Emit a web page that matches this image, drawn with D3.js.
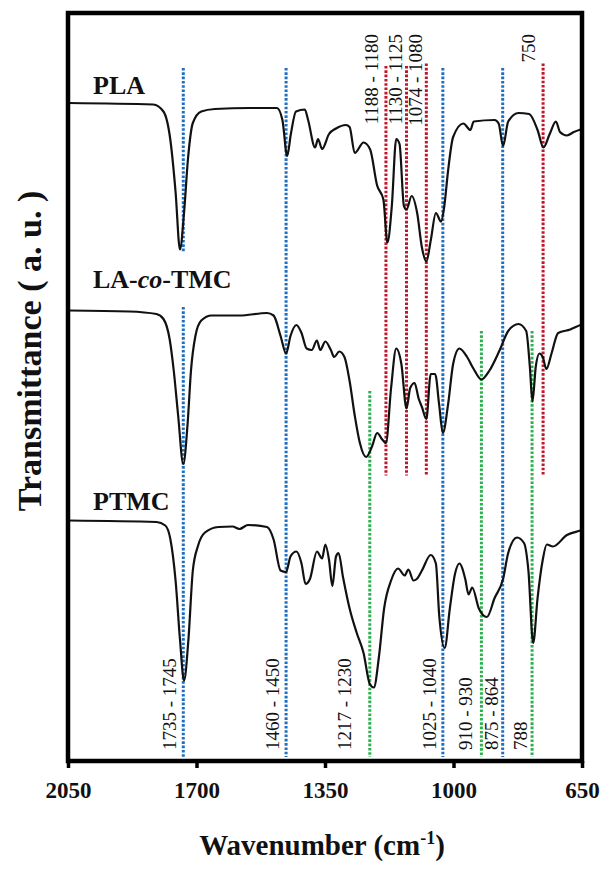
<!DOCTYPE html>
<html><head><meta charset="utf-8">
<script src="https://cdn.jsdelivr.net/npm/d3@7"></script>
<style>
html,body{margin:0;padding:0;background:#fff;}
svg{display:block;}
text{font-family:"Liberation Serif","Times New Roman",serif;}
</style></head>
<body>
<svg id="chart" width="603" height="870"></svg>
<script>
// ---- data (wavenumber cm-1, transmittance a.u.) ----
const xTicks = [2050, 1700, 1350, 1000, 650];

const PLA = [[2048,131.6],[1818,131.3],[1790,129.9],[1771,124.1],[1757,113.8],[1745,102.3],[1734,109.6],[1723,120.6],[1710,127.6],[1687,129.9],[1650,130.4],[1555,130.6],[1481,130.6],[1466,128.2],[1453,121],[1443,125.4],[1429,129.9],[1405,130.3],[1396,128.2],[1377,122.7],[1369,124.4],[1358,122.4],[1339,125.4],[1320,126.5],[1293,127.2],[1283,126.8],[1269,121.6],[1245,123.7],[1227,122.3],[1208,115.1],[1191,112.3],[1180,103.7],[1168,111],[1156,124.4],[1147,123.4],[1135,111],[1128,110.3],[1114,113],[1099,109.6],[1086,102.7],[1074,99.9],[1062,104.1],[1048,109.6],[1034,107.9],[1025,111],[1015,117.9],[1001,124.8],[973,127.5],[954,126.2],[945,127.9],[888,128.2],[877,127.5],[865,123],[851,127.9],[823,129.6],[794,129.4],[771,126.2],[755,122.7],[738,125.4],[721,127.9],[710,125.8],[691,125.1],[672,125.8],[654,126.3],[650,126.4]];

const LACOTMC = [[2048,90.1],[1884,89.9],[1809,89.4],[1790,88.4],[1773,84.3],[1762,78.1],[1750,69.1],[1736,59.4],[1724,67.7],[1715,78.1],[1703,85],[1687,88.1],[1659,89.1],[1583,89.1],[1508,89.6],[1490,89.1],[1471,85],[1456,81.5],[1444,85],[1428,87.2],[1414,85.6],[1400,82.5],[1386,82.2],[1372,84.1],[1363,82.2],[1349,83.9],[1334,82.2],[1325,80.8],[1311,81.9],[1297,80.8],[1283,76],[1269,69.1],[1255,63.6],[1238,60.8],[1222,62.9],[1208,65.6],[1194,64.3],[1184,63.6],[1170,74.6],[1156,82.5],[1142,79.4],[1128,70.5],[1118,74.6],[1106,75.6],[1095,72.5],[1086,70.8],[1074,68.4],[1062,77.4],[1050,77.4],[1039,71.2],[1029,65.6],[1015,71.2],[1001,79.4],[984,82.5],[963,80.8],[945,78.4],[924,76.3],[902,78.1],[874,82.2],[851,86],[823,87.4],[802,86],[792,78.8],[785,71.9],[776,78.8],[766,81.5],[757,80.8],[747,78.4],[733,81.5],[715,85.6],[682,86.3],[654,87.2],[650,87.3]];

const PTMC = [[2048,48.1],[1809,47.8],[1785,47.1],[1771,44.3],[1757,36.1],[1745,24.3],[1734,16.1],[1722,24.3],[1710,38.1],[1696,43],[1677,45.7],[1640,46.8],[1602,46.9],[1583,46.4],[1560,47.2],[1508,46.8],[1490,44.3],[1471,38.1],[1456,37.8],[1444,40.9],[1428,41.9],[1414,39.5],[1403,35.4],[1391,36.4],[1372,41.9],[1358,40.5],[1349,43.3],[1339,40.2],[1330,35],[1320,40.9],[1313,41.6],[1301,36.8],[1283,30.5],[1264,25.7],[1245,21.6],[1228,15.4],[1217,14.7],[1203,20.9],[1189,30.5],[1170,36.1],[1151,38.5],[1133,37.1],[1123,38.3],[1109,36.1],[1100,36.4],[1086,38.1],[1062,41.2],[1048,39.5],[1039,29.2],[1024,22.6],[1010,30.5],[996,37.4],[984,39.5],[968,36.4],[959,33.3],[949,34.7],[931,30.5],[909,28.8],[888,32.6],[865,36.4],[851,41.6],[827,44.7],[808,43.6],[796,38.1],[783,23.6],[771,32.6],[757,40.2],[746,43.3],[729,42.9],[691,45.2],[654,46.1],[650,46.2]];

const seriesNames = ["PLA", "LA-co-TMC", "PTMC"];
const seriesLabelY = [133.4, 94.6, 50.2];   // label baseline (a.u.)

// band marker lines: wavenumber, colour group, vertical extents (a.u.)
const markers = [
  {wn:1736, c:"blue",  segs:[[138.6,101.8],[90.8,0.8]]},
  {wn:1456, c:"blue",  segs:[[138.6,0.8]]},
  {wn:1228, c:"green", segs:[[74,0.8]]},
  {wn:1184, c:"red",   segs:[[139,57.1]]},
  {wn:1128, c:"red",   segs:[[139,57.1]]},
  {wn:1074, c:"red",   segs:[[139.5,57.1]]},
  {wn:1029, c:"blue",  segs:[[138.6,0.8]]},
  {wn:924,  c:"green", segs:[[86,0.8]]},
  {wn:866,  c:"blue",  segs:[[138.6,0.8]]},
  {wn:786,  c:"green", segs:[[86,0.8]]},
  {wn:756,  c:"red",   segs:[[139.5,57.1]]}
];

// band labels: text, wavenumber of text baseline, top or bottom
const bandLabels = [
  {t:"1188 - 1180", wn:1206, pos:"top"},
  {t:"1130 - 1125", wn:1140, pos:"top"},
  {t:"1074 - 1080", wn:1086, pos:"top"},
  {t:"750",         wn:778,  pos:"top"},
  {t:"1735 - 1745", wn:1757, pos:"bottom"},
  {t:"1460 - 1450", wn:1475, pos:"bottom"},
  {t:"1217 - 1230", wn:1278, pos:"bottom"},
  {t:"1025 - 1040", wn:1048, pos:"bottom"},
  {t:"910 - 930",   wn:950,  pos:"bottom"},
  {t:"875 - 864",   wn:879,  pos:"bottom"},
  {t:"788",         wn:800,  pos:"bottom"}
];

// ---- drawing ----
const colors = {blue:"#1f6fc0", red:"#c0162b", green:"#2db04f"};
const L = 68, R = 582, T = 13, B = 761;
const svg = d3.select("#chart");
const x = d3.scaleLinear().domain([2050, 650]).range([L, R]);
const y = d3.scaleLinear().domain([0, 149.6]).range([B, T]);

// marker lines
markers.forEach(m => {
  m.segs.forEach(s => {
    svg.append("line")
      .attr("x1", x(m.wn)).attr("x2", x(m.wn))
      .attr("y1", y(s[0])).attr("y2", y(s[1]))
      .attr("stroke", colors[m.c]).attr("stroke-width", 3)
      .attr("stroke-dasharray", "2.6,1.7");
  });
});

// spectra
const line = d3.line().x(d => x(d[0])).y(d => y(d[1])).curve(d3.curveMonotoneX);
[PLA, LACOTMC, PTMC].forEach(s => {
  svg.append("path").datum(s).attr("d", line)
    .attr("fill", "none").attr("stroke", "#111").attr("stroke-width", 2.2)
    .attr("stroke-linejoin", "round");
});

// band labels
bandLabels.forEach(b => {
  const yy = b.pos === "top" ? 34 : 750;
  svg.append("text")
    .attr("transform", `translate(${x(b.wn)},${yy}) rotate(-90)`)
    .attr("text-anchor", b.pos === "top" ? "end" : "start")
    .attr("font-size", 19).attr("fill", "#111")
    .text(b.t);
});

// series labels
seriesNames.forEach((n, i) => {
  const t = svg.append("text").attr("x", 93).attr("y", y(seriesLabelY[i]))
    .attr("font-size", 26).attr("font-weight", "bold").attr("fill", "#111");
  if (n === "LA-co-TMC") {
    t.append("tspan").text("LA-");
    t.append("tspan").attr("font-style", "italic").text("co");
    t.append("tspan").text("-TMC");
  } else t.text(n);
});

// frame
svg.append("rect").attr("x", L).attr("y", T).attr("width", R - L).attr("height", B - T)
  .attr("fill", "none").attr("stroke", "#000").attr("stroke-width", 4.5);

// x axis ticks + labels
const xAxis = d3.axisBottom(x).tickValues(xTicks).tickFormat(d3.format("d"))
  .tickSize(7).tickPadding(14);
const gx = svg.append("g").attr("transform", `translate(0,${B})`).call(xAxis);
gx.select(".domain").remove();
gx.selectAll(".tick line").attr("stroke", "#000").attr("stroke-width", 3.5);
gx.selectAll(".tick text").attr("font-family", "'Liberation Serif','Times New Roman',serif")
  .attr("font-size", 23).attr("font-weight", "bold").attr("fill", "#111")
  .attr("dy", "0.71em");

// axis titles
const xt = svg.append("text").attr("x", 322).attr("y", 855).attr("text-anchor", "middle")
  .attr("font-size", 29).attr("font-weight", "bold").attr("fill", "#111");
xt.append("tspan").text("Wavenumber (cm");
xt.append("tspan").attr("font-size", 18).attr("dy", -11).text("-1");
xt.append("tspan").attr("dy", 11).text(")");

svg.append("text").attr("transform", "translate(41,351) rotate(-90)")
  .attr("text-anchor", "middle").attr("font-size", 34).attr("font-weight", "bold")
  .attr("fill", "#111").text("Transmittance ( a. u. )");
</script>
</body></html>
